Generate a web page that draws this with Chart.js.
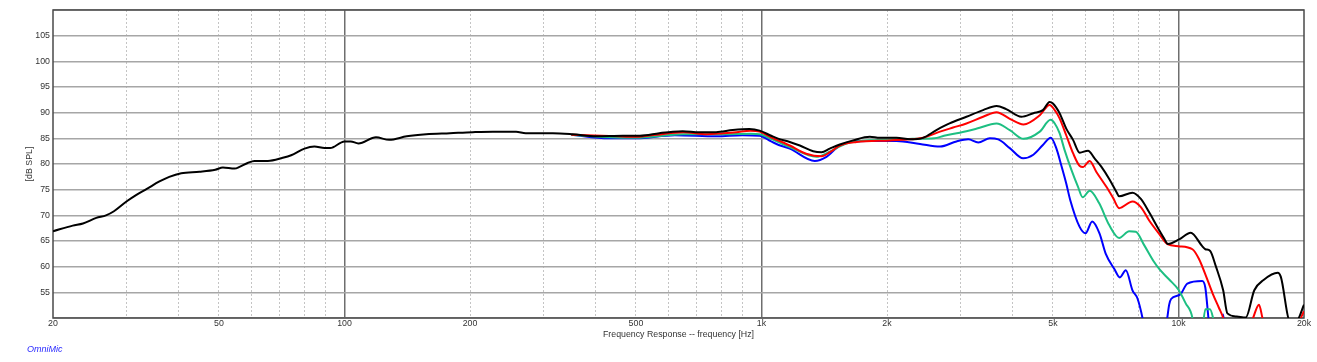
<!DOCTYPE html>
<html>
<head>
<meta charset="utf-8">
<title>Frequency Response</title>
<script src="https://cdn.jsdelivr.net/npm/chart.js@4.4.1/dist/chart.umd.min.js"></script>
<style>
    body { margin: 0; background: #ffffff; }
    #wrap { position: relative; width: 1317px; height: 362px; }
    #brand {
        position: absolute;
        left: 27px;
        top: 344px;
        font: italic 9px "Liberation Sans", Arial, sans-serif;
        color: #2a2aff;
    }
</style>
</head>
<body>
<div id="wrap">
    <canvas id="fr"></canvas>
    <div id="brand">OmniMic</div>
</div>

<script>
// ==========================
// DATA
// ==========================
const blackFreq = [20, 22.3, 23.6, 25.4, 26.8, 28, 30, 31.7, 33.5, 36, 38, 40.6, 44.9, 49, 51.1, 54.5, 56.2, 58.6, 60.8, 65.5, 71.1, 74.5, 80.2, 84.7, 89.6, 92.4, 100, 103.5, 108, 119, 128, 141, 157, 179, 203, 227, 258, 272, 316, 353, 402, 465, 511, 569, 613, 647, 710, 778, 853, 935, 990, 1055, 1100, 1169, 1236, 1330, 1393, 1458, 1541, 1659, 1819, 1921, 2108, 2272, 2440, 2627, 2825, 3101, 3400, 3662, 3862, 4200, 4487, 4730, 4910, 5000, 5187, 5381, 5587, 5797, 6068, 6292, 6530, 6834, 7095, 7206, 7757, 8125, 8506, 8906, 9240, 9430, 10037, 10700, 11400, 11600, 11900, 12300, 12800, 13100, 13800, 14500, 15200, 16000, 17300, 17600, 18500, 19200, 20000];
const blackDb = [66.9, 68.0, 68.4, 69.5, 70.0, 70.8, 72.7, 74.0, 75.1, 76.6, 77.5, 78.2, 78.5, 78.9, 79.3, 79.1, 79.5, 80.2, 80.6, 80.6, 81.2, 81.7, 83.0, 83.4, 83.1, 83.1, 84.4, 84.4, 84.0, 85.2, 84.7, 85.4, 85.8, 86.0, 86.2, 86.3, 86.3, 86.0, 86.0, 85.8, 85.4, 85.5, 85.5, 86.0, 86.3, 86.4, 86.2, 86.2, 86.6, 86.8, 86.5, 85.5, 84.9, 84.3, 83.6, 82.5, 82.3, 83.0, 83.8, 84.6, 85.3, 85.1, 85.1, 84.8, 85.1, 86.6, 87.9, 89.2, 90.5, 91.3, 90.7, 89.2, 89.9, 90.5, 92.1, 91.8, 89.9, 86.9, 84.7, 82.2, 82.6, 81.1, 79.5, 77.0, 74.6, 73.7, 74.4, 73.2, 70.6, 67.7, 65.5, 64.4, 65.3, 66.6, 64.0, 63.4, 63.1, 60.0, 55.4, 50.9, 50.3, 50.1, 55.4, 57.4, 58.8, 58.0, 49.5, 49.5, 52.6];

const redFreq = [350, 450, 500, 560, 650, 740, 810, 870, 940, 990, 1055, 1169, 1280, 1393, 1460, 1541, 1691, 2031, 2272, 2440, 2680, 2880, 3101, 3400, 3662, 3940, 4250, 4650, 4910, 5050, 5187, 5381, 5587, 5797, 5900, 6125, 6350, 6710, 6970, 7206, 7757, 8125, 8506, 8988, 9410, 10000, 10800, 11200, 11600, 12100, 12500, 12800, 13200, 15000, 15600, 16000, 19400, 20000];
const redDb = [85.7, 85.4, 85.3, 85.7, 86.2, 85.8, 86.0, 86.2, 86.5, 86.3, 85.2, 83.6, 82.0, 81.5, 82.3, 83.6, 84.3, 84.6, 84.8, 85.1, 86.3, 87.1, 87.9, 89.2, 90.1, 88.8, 87.7, 89.5, 91.5, 90.5, 88.9, 85.6, 82.1, 79.6, 79.4, 80.6, 78.5, 75.6, 73.4, 71.4, 72.7, 71.6, 69.0, 66.4, 64.4, 64.0, 63.4, 61.5, 58.5, 54.6, 52.0, 50.0, 45, 49.5, 52.6, 49.5, 49.5, 51.3];

const greenFreq = [350, 430, 500, 650, 810, 940, 990, 1055, 1169, 1354, 1450, 1599, 1900, 2300, 2600, 2740, 2990, 3285, 3662, 3940, 4250, 4650, 4935, 5050, 5187, 5333, 5540, 5740, 5893, 6125, 6451, 6822, 7206, 7616, 7900, 8274, 8743, 9000, 9500, 10000, 10400, 10800, 11000, 11300, 11600, 11900, 12150, 12500, 20000];
const greenDb = [85.7, 85.2, 85.1, 85.8, 85.8, 85.9, 85.8, 84.9, 83.3, 81.4, 82.3, 84.0, 84.7, 84.9, 85.0, 85.5, 86.1, 86.9, 87.9, 86.6, 84.9, 86.3, 88.6, 87.9, 86.0, 82.7, 78.8, 75.6, 73.5, 74.8, 72.4, 68.1, 65.6, 66.9, 66.8, 64.2, 60.9, 59.5, 57.5, 55.5, 52.9, 50.0, 45, 45, 51.7, 51.7, 49.5, 45, 45];

const blueFreq = [350, 430, 500, 620, 780, 900, 990, 1055, 1100, 1169, 1342, 1432, 1541, 1786, 2108, 2400, 2680, 2935, 3133, 3310, 3530, 3697, 3940, 4240, 4487, 4730, 4940, 5093, 5233, 5381, 5500, 5790, 5985, 6210, 6465, 6694, 7012, 7236, 7478, 7757, 7975, 8198, 8400, 9200, 9400, 9500, 9600, 10100, 10500, 11400, 11600, 11800, 12000, 12600, 12800, 13000, 20000];
const blueDb = [85.7, 85.0, 85.0, 85.6, 85.4, 85.6, 85.5, 84.4, 83.7, 83.0, 80.6, 81.4, 83.6, 84.5, 84.5, 83.9, 83.4, 84.4, 84.8, 84.2, 85.0, 84.8, 83.1, 81.1, 81.8, 83.7, 85.1, 83.1, 79.8, 76.2, 73.0, 67.8, 66.5, 68.8, 66.5, 62.5, 59.6, 57.9, 59.3, 55.4, 53.8, 50.0, 45, 45, 50.0, 52.6, 53.7, 54.6, 56.7, 57.2, 55.9, 50.0, 45, 45, 50.7, 45, 45];

// tick labels on the frequency axis, and the dotted minor lines
const freqLabels = [20, 50, 100, 200, 500, 1000, 2000, 5000, 10000, 20000];
const freqMinor = [30, 40, 50, 60, 70, 80, 90, 200, 300, 400, 500, 600, 700, 800, 900, 2000, 3000, 4000, 5000, 6000, 7000, 8000, 9000];
const decades = [100, 1000, 10000];

function toPoints(freq, db) {
    return freq.map((f, i) => ({ x: f, y: db[i] }));
}

function series(freq, db, color) {
    return {
        data: toPoints(freq, db),
        borderColor: color,
        backgroundColor: color,
        borderWidth: 2,
        pointRadius: 0,
        cubicInterpolationMode: "monotone",
        clip: 0,
        fill: false
    };
}

// dark frame round the plot area
const framePlugin = {
    id: "frame",
    beforeDatasetsDraw(chart) {
        const a = chart.chartArea;
        const ctx = chart.ctx;
        ctx.save();
        ctx.strokeStyle = "#4a4a4a";
        ctx.lineWidth = 1.5;
        ctx.strokeRect(a.left, a.top, a.right - a.left, a.bottom - a.top);
        ctx.restore();
    }
};

const textFont = { family: "'Liberation Sans', Arial, sans-serif", size: 8.8, lineHeight: 1.1 };

new Chart(document.getElementById("fr"), {

    type: "line",

    data: {
        datasets: [
            series(blackFreq, blackDb, "#000000"),
            series(redFreq, redDb, "#ff0000"),
            series(greenFreq, greenDb, "#1dbf82"),
            series(blueFreq, blueDb, "#0000ff")
        ]
    },

    options: {

        responsive: true,
        maintainAspectRatio: false,
        animation: false,

        layout: {
            padding: { left: 0, top: 10, right: 13, bottom: 23 }
        },

        scales: {

            x: {
                type: "logarithmic",
                position: "bottom",
                min: 20,
                max: 20000,
                afterBuildTicks: function (scale) {
                    scale.ticks = freqLabels.map(v => ({ value: v }));
                },
                afterFit: function (scale) {
                    scale.height = 21;
                },
                grid: {
                    drawTicks: false,
                    color: function (ctx) {
                        return decades.includes(ctx.tick.value) ? "#6e6e6e" : "rgba(0,0,0,0)";
                    },
                    lineWidth: 1.5
                },
                border: { display: false },
                ticks: {
                    autoSkip: false,
                    maxRotation: 0,
                    padding: 1,
                    color: "#333333",
                    font: textFont,
                    callback: function (value) {
                        return value >= 1000 ? (value / 1000) + "k" : String(value);
                    }
                },
                title: {
                    display: true,
                    text: "Frequency Response -- frequency [Hz]",
                    color: "#333333",
                    font: textFont,
                    padding: { top: 0, bottom: 0 }
                }
            },

            xMinor: {
                type: "logarithmic",
                position: "bottom",
                min: 20,
                max: 20000,
                afterBuildTicks: function (scale) {
                    scale.ticks = freqMinor.map(v => ({ value: v }));
                },
                afterFit: function (scale) {
                    scale.height = 0;
                },
                grid: {
                    drawTicks: false,
                    color: "#c4c4c4",
                    lineWidth: 1
                },
                border: { display: false, dash: [2, 2] },
                ticks: { display: false }
            },

            y: {
                type: "linear",
                min: 50,
                max: 110,
                afterFit: function (scale) {
                    scale.width = 53;
                },
                grid: {
                    drawTicks: false,
                    color: "#a6a6a6",
                    lineWidth: 1.5
                },
                border: { display: false },
                ticks: {
                    stepSize: 5,
                    padding: 3,
                    color: "#333333",
                    font: textFont,
                    callback: function (value) {
                        return (value === 50 || value === 110) ? "" : value;
                    }
                },
                title: {
                    display: true,
                    text: "[dB SPL]",
                    color: "#333333",
                    font: textFont,
                    padding: { top: 25, bottom: 0 }
                }
            }
        },

        plugins: {
            legend: { display: false },
            tooltip: { enabled: false }
        }
    },

    plugins: [framePlugin]
});
</script>
</body>
</html>
